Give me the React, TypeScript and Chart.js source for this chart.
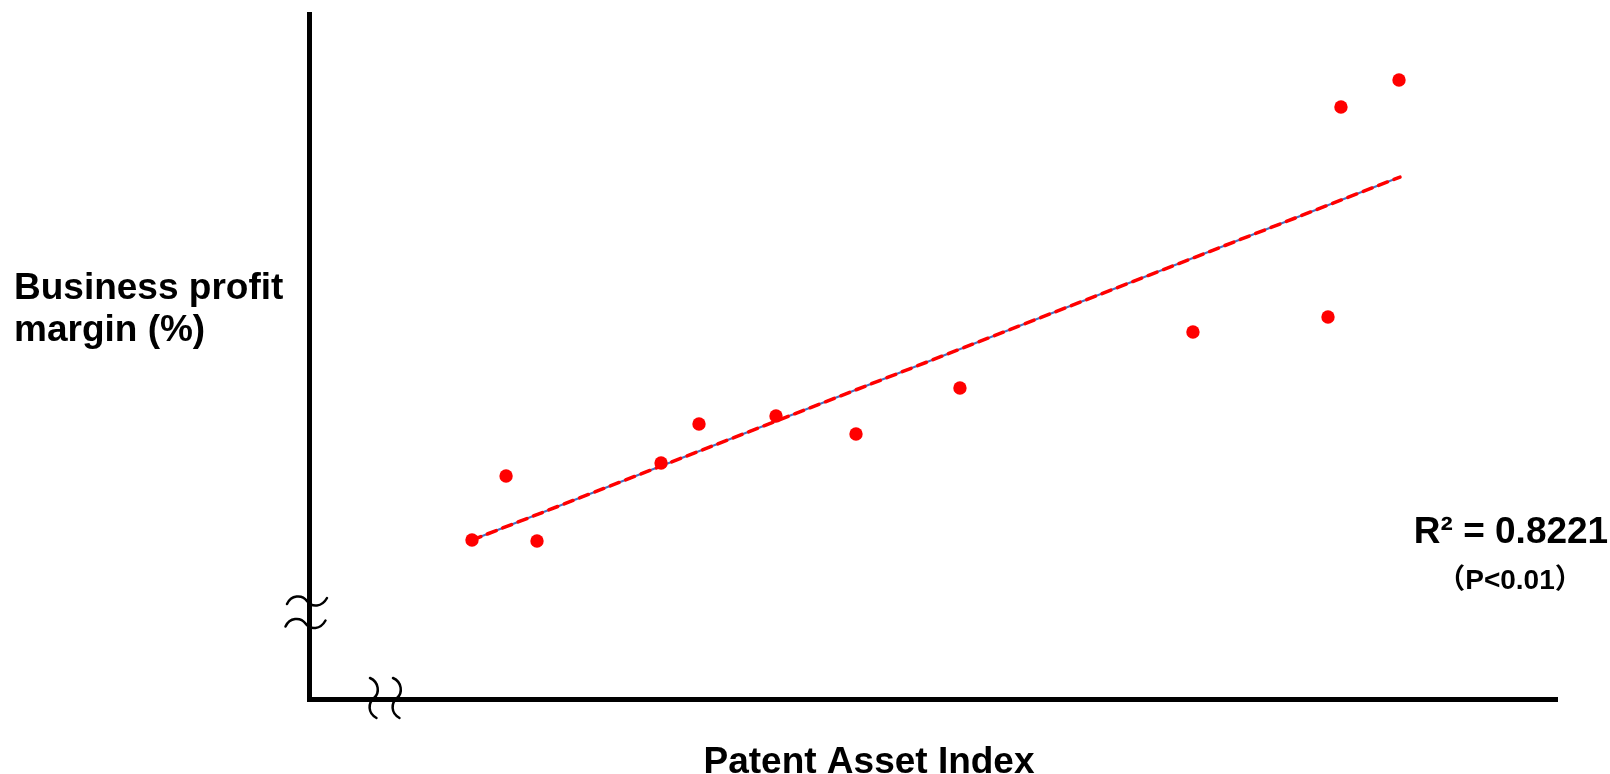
import React, { useEffect, useRef } from "react";
import { Chart, registerables } from "chart.js";

Chart.register(...registerables);

// Data (axes carry no ticks; normalized 0-100 units)
const patentIndex = [13.06, 15.79, 18.27, 28.21, 31.25, 37.42, 43.83, 52.16, 70.83, 81.65, 82.69, 87.34];
const profitMargin = [23.21, 32.55, 23.07, 34.45, 40.15, 41.31, 38.69, 45.4, 53.58, 55.77, 86.42, 90.36];
const trendX = [13.06, 87.42];
const trendY = [23.21, 76.2];

const xTitle = "Patent Asset Index";
const yTitleLines = ["Business profit", "margin (%)"];
const r2Label = "R\u00B2 = 0.8221";
const pLabel = "\uFF08P<0.01\uFF09";

const FONT = "'Liberation Sans', Arial, 'Noto Sans CJK JP', sans-serif";

const decorPlugin = {
  id: "decor",
  afterDraw(chart: any) {
    const ctx = chart.ctx as CanvasRenderingContext2D;
    const area = chart.chartArea;
    ctx.save();
    ctx.fillStyle = "#000";
    ctx.textBaseline = "alphabetic";

    // y-axis title (horizontal, two lines)
    ctx.textAlign = "left";
    ctx.font = `bold 37px ${FONT}`;
    ctx.fillText(yTitleLines[0], 14, 299);
    ctx.fillText(yTitleLines[1], 14, 341);

    // x-axis title
    ctx.textAlign = "center";
    ctx.font = `bold 37px ${FONT}`;
    ctx.fillText(xTitle, 869, 773);

    // R² and p-value
    ctx.font = `bold 37px ${FONT}`;
    ctx.fillText(r2Label, 1511, 543);
    ctx.font = `bold 28px ${FONT}`;
    ctx.fillText(pLabel, 1510, 589);

    // axis break marks
    ctx.strokeStyle = "#000";
    ctx.lineWidth = 2.5;
    ctx.lineCap = "round";
    const ax = area.left + 0.5;
    const ay = area.bottom + 0.5;
    const yWave = (cx: number, cy: number) => {
      ctx.beginPath();
      ctx.moveTo(cx - 22.5, cy + 3);
      ctx.bezierCurveTo(cx - 18.5, cy - 6, cx - 7.5, cy - 7, cx - 2.5, cy);
      ctx.bezierCurveTo(cx + 2.5, cy + 7, cx + 12.5, cy + 6, cx + 17.5, cy - 3);
      ctx.stroke();
    };
    yWave(ax, 601);
    yWave(ax - 1.5, 623.5);
    const xWave = (cx: number, cy: number) => {
      ctx.beginPath();
      ctx.moveTo(cx - 4, cy - 21.5);
      ctx.bezierCurveTo(cx + 5, cy - 17.5, cx + 6, cy - 6.5, cx, cy - 1.5);
      ctx.bezierCurveTo(cx - 6, cy + 3.5, cx - 6.5, cy + 13.5, cx + 2.5, cy + 18.5);
      ctx.stroke();
    };
    xWave(374, ay);
    xWave(397, ay);
    ctx.restore();
  },
};

export default function App() {
  const ref = useRef<HTMLCanvasElement | null>(null);
  useEffect(() => {
    if (!ref.current) return;
    const points = patentIndex.map((x, i) => ({ x, y: profitMargin[i] }));
    const trend = trendX.map((x, i) => ({ x, y: trendY[i] }));
    const chart = new Chart(ref.current, {
      type: "scatter",
      data: {
        datasets: [
          {
            label: "data",
            data: points,
            backgroundColor: "#FF0000",
            borderColor: "#FF0000",
            borderWidth: 0,
            pointRadius: 6.7,
            showLine: false,
          },
          {
            label: "trend",
            data: trend,
            showLine: true,
            borderColor: "#FF0000",
            borderWidth: 3.5,
            borderDash: [9.5, 7],
            borderCapStyle: "round",
            pointRadius: 0,
            fill: false,
          },
          {
            label: "trend-base",
            data: trend,
            showLine: true,
            borderColor: "#4472C4",
            borderWidth: 2,
            pointRadius: 0,
            fill: false,
          },
        ],
      },
      options: {
        responsive: false,
        animation: false,
        events: [],
        layout: { padding: { left: 309, top: 14, right: 53, bottom: 0 } },
        plugins: { legend: { display: false }, tooltip: { enabled: false }, title: { display: false } },
        scales: {
          x: {
            type: "linear",
            min: 0,
            max: 100,
            ticks: { display: false },
            grid: { display: false, drawTicks: false },
            border: { display: true, color: "#000", width: 5 },
            title: { display: false, text: xTitle },
            afterFit: (s: any) => {
              s.height = 75;
            },
          },
          y: {
            type: "linear",
            min: 0,
            max: 100,
            ticks: { display: false },
            grid: { display: false, drawTicks: false },
            border: { display: true, color: "#000", width: 5 },
            afterFit: (s: any) => {
              s.width = 0;
            },
          },
        },
      },
      plugins: [decorPlugin],
    } as any);
    return () => chart.destroy();
  }, []);
  return (
    <div style={{ position: "absolute", left: 0, top: 0, width: 1610, height: 774, background: "#fff" }}>
      <canvas ref={ref} width={1610} height={774} style={{ display: "block" }} />
    </div>
  );
}
